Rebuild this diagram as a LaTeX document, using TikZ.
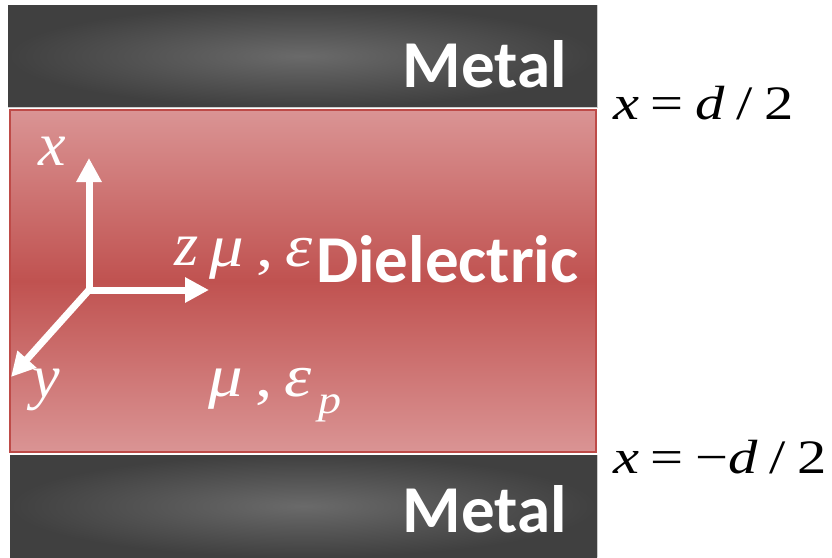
\documentclass[tikz,border=0pt]{standalone}
\usepackage{fontspec}
\setmainfont{Liberation Serif}
\newfontfamily\calfont{Carlito}
\usetikzlibrary{arrows.meta}
\definecolor{metaldark}{RGB}{64,64,64}
\definecolor{metallight}{RGB}{106,106,106}
\definecolor{dielight}{RGB}{218,148,148}
\definecolor{diemid}{RGB}{192,82,80}
\definecolor{dieborder}{RGB}{190,75,72}
\newcommand{\eqsp}{\hspace{9.5pt}}
\newcommand{\wideq}[1]{\scalebox{1.22}[1]{#1}}
\newcommand{\widgr}[1]{\scalebox{1.15}[1]{#1}}
\tikzset{
  metalbox/.style={inner color=metallight, outer color=metaldark},
  dielbox/.style={top color=dielight, bottom color=dielight, middle color=diemid},
  boldlbl/.style={font=\calfont\bfseries\fontsize{67}{67}\selectfont, text=white, inner sep=0pt},
  eqlbl/.style={font=\fontsize{48}{48}\selectfont, text=black, inner sep=0pt, anchor=base west},
  axlbl/.style={font=\itshape\fontsize{62}{62}\selectfont, text=white, inner sep=0pt, anchor=base west},
  grlbl/.style={font=\itshape\fontsize{60}{60}\selectfont, text=white, inner sep=0pt, anchor=base west},
  axisarrow/.style={draw=white, line width=7pt, -{Triangle[width=24pt,length=24pt]}},
}
\begin{document}
\begin{tikzpicture}[x=1pt,y=-1pt]
\useasboundingbox (0,0) rectangle (832,557);
% metals
\shade[metalbox] (8,5) rectangle (597,107);
\draw[gray!40, line width=1pt] (597,5) -- (597,107) -- (8,107);
\shade[metalbox] (10,455) rectangle (597,557);
\draw[gray!40, line width=1pt] (597,455) -- (597,557);
% dielectric
\shade[dielbox] (10,110) rectangle (596,452);
\draw[dieborder, line width=2pt] (10,110) rectangle (596,452);
% labels
\node[boldlbl, anchor=base east] (mtop) at (567,87) {Metal};
\node[boldlbl, anchor=base east] (mbot) at (567,532) {Metal};
% axes
\coordinate (o) at (89,290);
\coordinate (xt) at (89,158);
\coordinate (zt) at (209,290);
\coordinate (yt) at (11,377);
\draw[axisarrow] (o) -- (xt);
\draw[axisarrow] (o) -- (zt);
\draw[axisarrow] (o) -- (yt);
\node[axlbl] (xl) at (38,165) {x};
\node[axlbl] (yl) at (32,397) {y};
\node[axlbl] (zl) at (174,265) {z};
\node[grlbl] (mu1) at (209,266) {\widgr{μ\hspace{11pt}\upshape,\hspace{10pt}\itshape ε}};
\node[boldlbl, anchor=base west] (diel) at (316,282) {Dielectric};
\node[grlbl] (mu2) at (208,396) {\widgr{μ\hspace{11pt}\upshape,\hspace{10pt}\itshape ε\hspace{6pt}\raisebox{-17pt}{\fontsize{40}{40}\selectfont p}}};
% dots
\fill[black] (617,117) circle (1.2pt);
\fill[black] (617,472) circle (1.2pt);
% equations
\node[eqlbl] (eqtop) at (613,119) {\wideq{\itshape x\upshape\eqsp=\eqsp\itshape d\upshape\eqsp/\eqsp2}};
\node[eqlbl] (eqbot) at (613,473) {\wideq{\itshape x\upshape\eqsp=\eqsp−\itshape d\upshape\eqsp/\eqsp2}};
\end{tikzpicture}
\end{document}
